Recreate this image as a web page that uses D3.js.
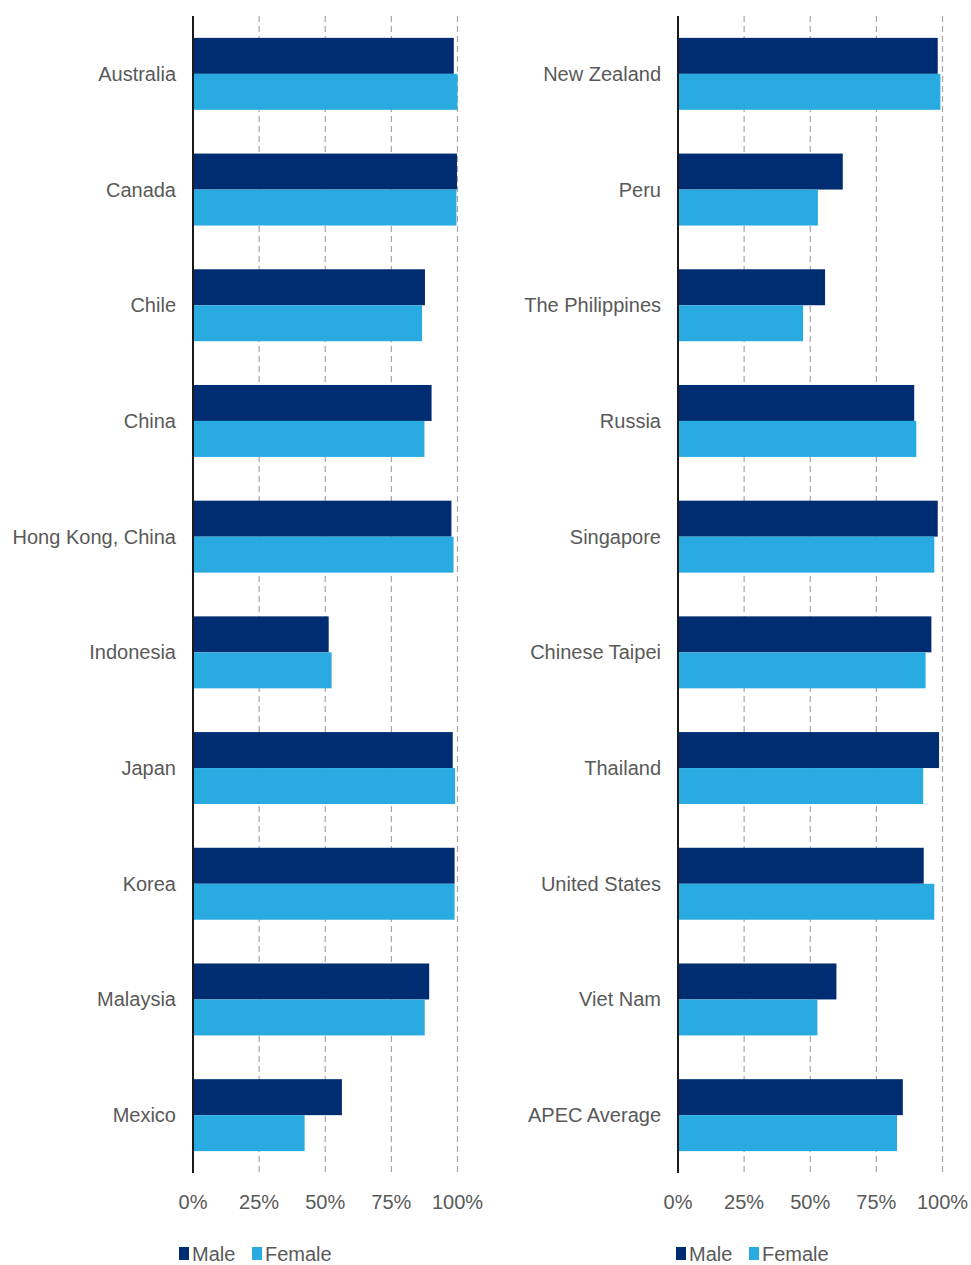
<!DOCTYPE html>
<html>
<head>
<meta charset="utf-8">
<script src="https://cdn.jsdelivr.net/npm/d3@7"></script>
<style>
  body { margin: 0; background: #fff; }
  svg text { font-family: "Liberation Sans", Arial, sans-serif; fill: #595959; }
</style>
</head>
<body>
<div id="chart"></div>
<script>
// series names
const seriesNames = ["Male", "Female"];
const seriesColors = ["#002d72", "#29abe2"];

// left panel
const leftCountries = ["Australia", "Canada", "Chile", "China", "Hong Kong, China",
    "Indonesia", "Japan", "Korea", "Malaysia", "Mexico"];
const leftMale   = [98.6, 99.8, 87.7, 90.2, 97.7, 51.3, 98.2, 98.9, 89.3, 56.3];
const leftFemale = [100,  99.6, 86.6, 87.5, 98.5, 52.4, 99.1, 98.9, 87.6, 42.2];

// right panel
const rightCountries = ["New Zealand", "Peru", "The Philippines", "Russia", "Singapore",
    "Chinese Taipei", "Thailand", "United States", "Viet Nam", "APEC Average"];
const rightMale   = [98.2, 62.3, 55.6, 89.3, 98.2, 95.8, 98.7, 92.9, 59.9, 85.0];
const rightFemale = [99.2, 52.9, 47.3, 90.1, 96.9, 93.6, 92.7, 96.9, 52.7, 82.8];

// x ticks
const tickValues = [0, 25, 50, 75, 100];

const width = 971;
const height = 1265;

let svg = d3.select("#chart")
    .append("svg")
    .attr("width", width)
    .attr("height", height);

/**
 * Draws one panel of grouped horizontal bars.
 */
function drawPanel(countries, male, female, x0, legendX)
{
    let top = 16;
    let bottom = 1173;

    let x = d3.scaleLinear()
        .domain([0, 100])
        .range([x0, x0 + 264.5]);

    let y = d3.scaleBand()
        .domain(countries)
        .range([top, bottom])
        .paddingInner(0.378)
        .paddingOuter(0.189);

    let ySub = d3.scaleBand()
        .domain(seriesNames)
        .range([0, y.bandwidth()]);

    let g = svg.append("g");

    // dashed gridlines
    g.selectAll("line.grid")
        .data(tickValues.filter(function (d) { return d > 0; }))
        .join("line")
        .attr("class", "grid")
        .attr("x1", function (d) { return x(d); })
        .attr("x2", function (d) { return x(d); })
        .attr("y1", top)
        .attr("y2", bottom)
        .attr("stroke", "#a6a6a6")
        .attr("stroke-width", 1.2)
        .attr("stroke-dasharray", "6,4");

    // rows: [country, male, female]
    let rows = countries.map(function (c, i) {
        return { country: c, values: [male[i], female[i]] };
    });

    let groups = g.selectAll("g.row")
        .data(rows)
        .join("g")
        .attr("class", "row")
        .attr("transform", function (d) { return `translate(0, ${y(d.country)})`; });

    groups.selectAll("rect")
        .data(function (d) {
            return d.values.map(function (v, i) { return { key: seriesNames[i], value: v, i: i }; });
        })
        .join("rect")
        .attr("x", x(0))
        .attr("y", function (d) { return ySub(d.key); })
        .attr("width", function (d) { return x(d.value) - x(0); })
        .attr("height", ySub.bandwidth())
        .attr("fill", function (d) { return seriesColors[d.i]; });

    // category labels
    g.selectAll("text.cat")
        .data(countries)
        .join("text")
        .attr("class", "cat")
        .attr("x", x0 - 17)
        .attr("y", function (d) { return y(d) + y.bandwidth() / 2; })
        .attr("dy", "0.35em")
        .attr("text-anchor", "end")
        .style("font-size", "20px")
        .text(function (d) { return d; });

    // axis line
    g.append("line")
        .attr("x1", x(0))
        .attr("x2", x(0))
        .attr("y1", top)
        .attr("y2", bottom)
        .attr("stroke", "#1a1a1a")
        .attr("stroke-width", 2);

    // tick labels
    g.selectAll("text.tick")
        .data(tickValues)
        .join("text")
        .attr("class", "tick")
        .attr("x", function (d) { return x(d); })
        .attr("y", 1209)
        .attr("text-anchor", "middle")
        .style("font-size", "20px")
        .text(function (d) { return d + "%"; });

    // legend
    let offsets = [0, 73];
    let legend = g.selectAll("g.legend")
        .data(seriesNames)
        .join("g")
        .attr("class", "legend")
        .attr("transform", function (d, i) { return `translate(${legendX + offsets[i]}, 1247)`; });

    legend.append("rect")
        .attr("width", 10)
        .attr("height", 13)
        .attr("fill", function (d, i) { return seriesColors[i]; });

    legend.append("text")
        .attr("x", 13)
        .attr("y", 13.5)
        .style("font-size", "20px")
        .text(function (d) { return d; });
}

drawPanel(leftCountries, leftMale, leftFemale, 193, 179);
drawPanel(rightCountries, rightMale, rightFemale, 678, 676);
</script>
</body>
</html>
